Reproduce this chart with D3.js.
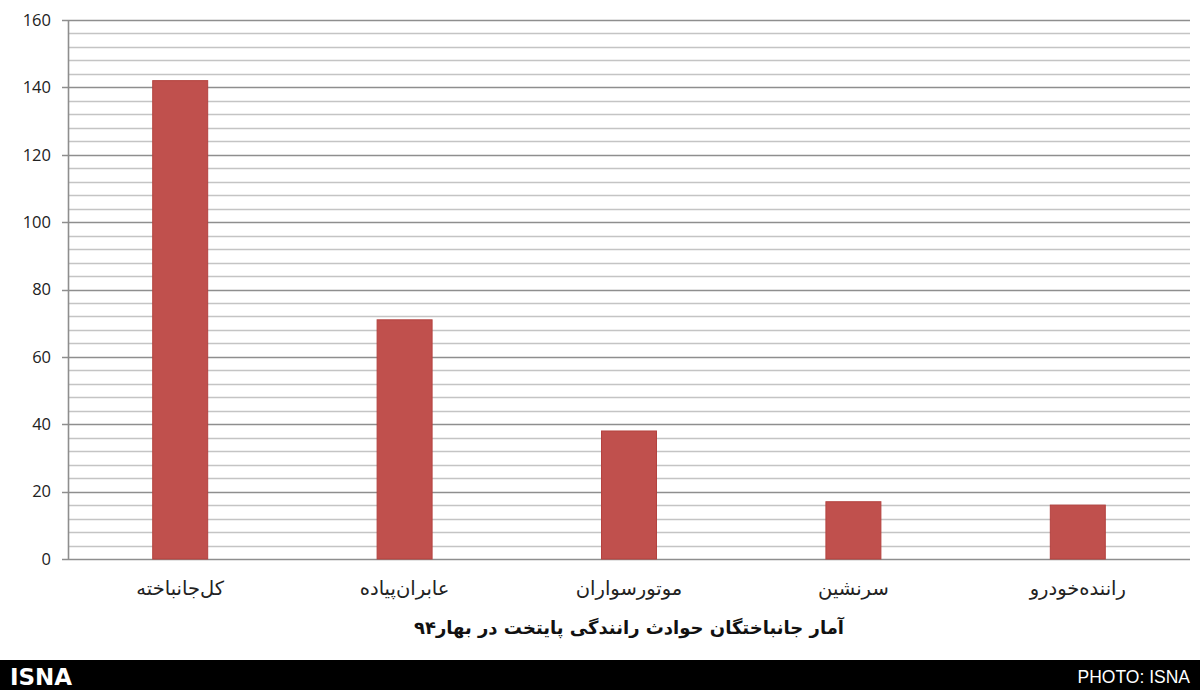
<!DOCTYPE html>
<html><head><meta charset="utf-8">
<script src="https://cdn.jsdelivr.net/npm/d3@7"></script>
<style>
html,body{margin:0;padding:0;background:#fff;}
svg{display:block;}
</style>
</head><body>
<svg id="chart" width="1200" height="690"></svg>
<script>
const categories = ["کل\u200cجانباخته", "عابران\u200cپیاده", "موتورسواران", "سرنشین", "راننده\u200cخودرو"];
const values = [142, 71, 38, 17, 16];
const yTicks = [0, 20, 40, 60, 80, 100, 120, 140, 160];
const minorTicks = d3.range(0, 161, 4);
const title = "آمار جانباختگان حوادث رانندگی پایتخت در بهار۹۴";
const footerLeft = "ISNA";
const footerRight = "PHOTO: ISNA";

const svg = d3.select("#chart");
const W = 1200, H = 690;
const m = {left: 68, right: 10, top: 20, bottom: 131};
const x = d3.scaleBand().domain(categories).range([m.left, W - m.right]).paddingInner(0.755).paddingOuter(0.3775);
const y = d3.scaleLinear().domain([0, 160]).range([H - m.bottom, m.top]);

const g = svg.append("g");
// minor gridlines
g.selectAll("line.minor").data(minorTicks.filter(d => d % 20 !== 0)).join("line")
  .attr("class", "minor")
  .attr("x1", m.left).attr("x2", W - m.right)
  .attr("y1", d => Math.round(y(d)) + 0.5).attr("y2", d => Math.round(y(d)) + 0.5)
  .attr("stroke", "#c4c4c4").attr("stroke-width", 1.6);
// major gridlines
g.selectAll("line.major").data(yTicks).join("line")
  .attr("class", "major")
  .attr("x1", m.left - 6).attr("x2", W - m.right)
  .attr("y1", d => Math.round(y(d)) + 0.5).attr("y2", d => Math.round(y(d)) + 0.5)
  .attr("stroke", "#8e8e8e").attr("stroke-width", 1.6);
// y axis line
g.append("line").attr("x1", m.left + 0.5).attr("x2", m.left + 0.5)
  .attr("y1", y(160)).attr("y2", y(0)).attr("stroke", "#8e8e8e").attr("stroke-width", 1.6);
// y tick labels
const yAxis = d3.axisLeft(y).tickValues(yTicks).tickSize(0).tickPadding(0);
const ya = svg.append("g").attr("transform", `translate(${m.left - 17},0)`).call(yAxis);
ya.select(".domain").remove();
ya.selectAll("text").attr("font-family", "'Open Sans', 'Liberation Sans', sans-serif")
  .attr("font-size", 16.5).attr("fill", "#222");

// bars
svg.append("g").selectAll("rect").data(values).join("rect")
  .attr("x", (d, i) => x(categories[i]))
  .attr("width", x.bandwidth())
  .attr("y", d => y(d))
  .attr("height", d => y(0) - y(d))
  .attr("fill", "#c0504d")
  .attr("stroke", "#b4423f").attr("stroke-width", 1);

// x axis labels
const xAxis = d3.axisBottom(x).tickSize(0).tickPadding(0);
const xa = svg.append("g").attr("transform", `translate(0,${y(0) + 22})`).call(xAxis);
xa.select(".domain").remove();
xa.selectAll("text").attr("font-family", "'DejaVu Sans', sans-serif")
  .attr("font-size", 19.5).attr("fill", "#222").attr("dy", "0.71em");

// title
svg.append("text").attr("x", (m.left + W - m.right) / 2).attr("y", 634)
  .attr("text-anchor", "middle").attr("direction", "rtl")
  .attr("font-family", "'DejaVu Sans', sans-serif").attr("font-weight", "bold")
  .attr("font-size", 18).attr("fill", "#111").text(title);

// footer
svg.append("rect").attr("x", 0).attr("y", 660).attr("width", W).attr("height", 30).attr("fill", "#000");
svg.append("text").attr("x", 10).attr("y", 685)
  .attr("font-family", "'DejaVu Sans', sans-serif").attr("font-weight", "bold")
  .attr("font-size", 23).attr("fill", "#fff").text(footerLeft);
svg.append("text").attr("x", 1190).attr("y", 683).attr("text-anchor", "end")
  .attr("font-family", "'Liberation Sans', sans-serif")
  .attr("font-size", 17.5).attr("fill", "#fff").text(footerRight);
</script>
</body></html>
